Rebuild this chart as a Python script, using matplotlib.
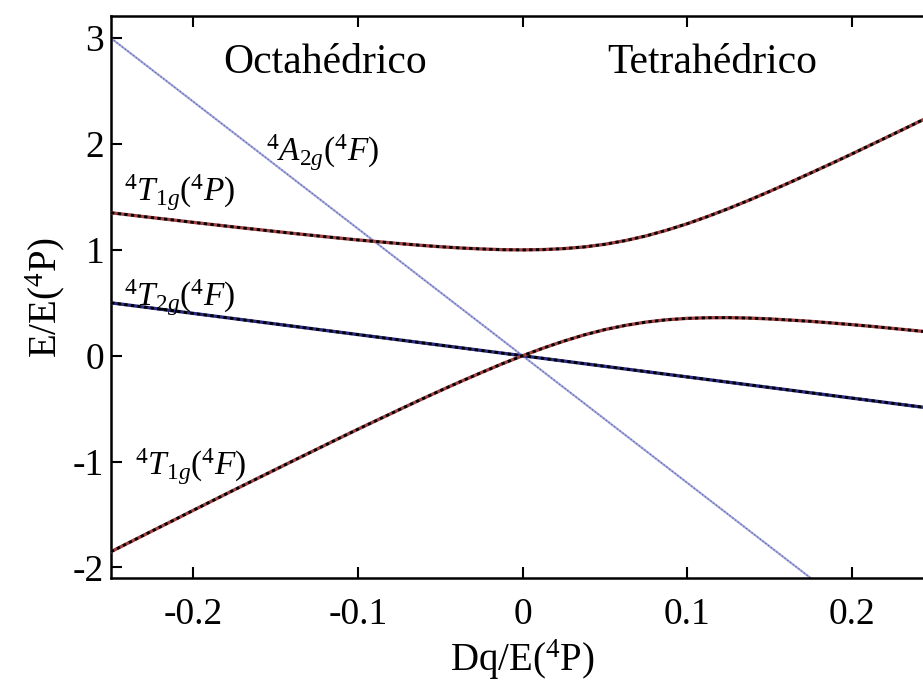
import numpy as np
import matplotlib
matplotlib.use("Agg")
import matplotlib.pyplot as plt

plt.rcParams['font.family'] = ['Liberation Serif', 'DejaVu Serif']
plt.rcParams['mathtext.fontset'] = 'custom'
plt.rcParams['mathtext.rm'] = 'Liberation Serif'
plt.rcParams['mathtext.it'] = 'Liberation Serif:italic'

# Dq/E(4P) sample points
dq = [-0.25, -0.2375, -0.225, -0.2125, -0.2, -0.1875, -0.175, -0.1625, -0.15,
      -0.1375, -0.125, -0.1125, -0.1, -0.0875, -0.075, -0.0625, -0.05, -0.0375,
      -0.025, -0.0125, 0.0, 0.0125, 0.025, 0.0375, 0.05, 0.0625, 0.075, 0.0875,
      0.1, 0.1125, 0.125, 0.1375, 0.15, 0.1625, 0.175, 0.1875, 0.2, 0.2125,
      0.225, 0.2375, 0.25]

# 4T1g(4P) branch
t1p = [1.351, 1.328, 1.305, 1.283, 1.260, 1.238, 1.216, 1.195, 1.174, 1.153,
       1.133, 1.113, 1.094, 1.077, 1.060, 1.044, 1.030, 1.018, 1.009, 1.002,
       1.000, 1.003, 1.012, 1.028, 1.053, 1.088, 1.132, 1.186, 1.247, 1.316,
       1.390, 1.469, 1.552, 1.638, 1.726, 1.815, 1.906, 1.999, 2.092, 2.186,
       2.281]

# 4T1g(4F) branch
t1f = [-1.851, -1.753, -1.655, -1.558, -1.460, -1.363, -1.266, -1.170, -1.074,
       -0.978, -0.883, -0.788, -0.694, -0.602, -0.510, -0.419, -0.330, -0.243,
       -0.159, -0.077, 0.000, 0.072, 0.138, 0.197, 0.247, 0.287, 0.318, 0.340,
       0.353, 0.359, 0.360, 0.356, 0.348, 0.337, 0.325, 0.310, 0.294, 0.277,
       0.258, 0.239, 0.219]

# straight levels (end points)
a2_x = [-0.25, 0.25]
a2_y = [3.0, -3.0]
t2_x = [-0.25, 0.25]
t2_y = [0.5, -0.5]

fig = plt.figure(figsize=(9.23, 6.83), dpi=100)
ax = fig.add_axes([0.1203, 0.1537, 0.8917, 0.8229])

ax.plot(a2_x, a2_y, color='#a4a8dc', lw=1.5, zorder=2)
ax.plot(a2_x, a2_y, color='#6a70b8', lw=1.0, ls=(0, (1, 1.5)), zorder=2)

ax.plot(t2_x, t2_y, color='#2a2a80', lw=2.4, zorder=3)
ax.plot(t2_x, t2_y, color='black', lw=2.0, ls=(0, (1.2, 1.2)), zorder=3)

for yy in (t1p, t1f):
    ax.plot(dq, yy, color='#a04040', lw=2.4, zorder=3)
    ax.plot(dq, yy, color='black', lw=2.0, ls=(0, (1.2, 1.2)), zorder=3)

ax.set_xlim(-0.25, 0.25)
ax.set_ylim(-2.1, 3.21)
ax.set_xticks([-0.2, -0.1, 0, 0.1, 0.2])
ax.set_xticklabels(['-0.2', '-0.1', '0', '0.1', '0.2'])
ax.set_yticks([-2, -1, 0, 1, 2, 3])
ax.set_yticklabels(['-2', '-1', '0', '1', '2', '3'])
ax.tick_params(direction='in', length=8, width=1.5, labelsize=27,
               top=True, right=True)
ax.tick_params(axis='x', pad=14)
ax.tick_params(axis='y', pad=5)
for s in ax.spines.values():
    s.set_linewidth(1.8)

ax.set_xlabel('Dq/E($^4$P)', fontsize=28, labelpad=4)
ax.set_ylabel('E/E($^4$P)', fontsize=28, labelpad=4)

ax.text(-0.12, 2.77, 'Octahédrico', fontsize=30, ha='center', va='center')
ax.text(0.115, 2.77, 'Tetrahédrico', fontsize=30, ha='center', va='center')

ax.text(-0.156, 1.92, r'$^4A_{2g}(^4F)$', fontsize=24, ha='left', va='center')
ax.text(-0.242, 1.54, r'$^4T_{1g}(^4P)$', fontsize=24, ha='left', va='center')
ax.text(-0.242, 0.55, r'$^4T_{2g}(^4F)$', fontsize=24, ha='left', va='center')
ax.text(-0.2355, -1.05, r'$^4T_{1g}(^4F)$', fontsize=24, ha='left', va='center')

fig.savefig('out.png', dpi=100)
